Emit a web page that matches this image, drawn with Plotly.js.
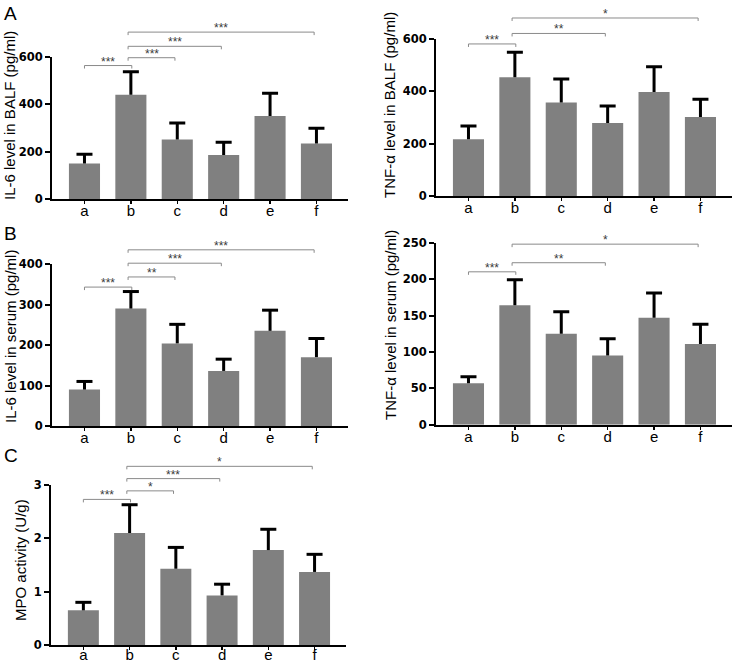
<!DOCTYPE html>
<html>
<head>
<meta charset="utf-8">
<script src="https://cdn.plot.ly/plotly-3.0.1.min.js"></script>
<style>
html, body { margin: 0; padding: 0; background: #fff; }
#chart { width: 734px; height: 664px; }
</style>
</head>
<body>
<div id="chart"></div>
<script>
// groups on every x axis
const groups = ['a', 'b', 'c', 'd', 'e', 'f'];

// A left: IL-6 in BALF (pg/ml)
const il6BalfMean = [151, 441, 252, 187, 351, 235];
const il6BalfSd = [39, 97, 70, 54, 96, 65];
const il6BalfPairs = [[0, 1], [1, 2], [1, 3], [1, 5]];
const il6BalfLevels = [564, 597, 645, 705];
const il6BalfStars = ['***', '***', '***', '***'];

// A right: TNF-α in BALF (pg/ml)
const tnfBalfMean = [216, 453, 357, 278, 397, 301];
const tnfBalfSd = [51, 95, 89, 65, 96, 68];
const tnfBalfPairs = [[0, 1], [1, 3], [1, 5]];
const tnfBalfLevels = [580, 620, 679];
const tnfBalfStars = ['***', '**', '*'];

// B left: IL-6 in serum (pg/ml)
const il6SerumMean = [90, 290, 204, 136, 235, 170];
const il6SerumSd = [20, 42, 47, 29, 51, 46];
const il6SerumPairs = [[0, 1], [1, 2], [1, 3], [1, 5]];
const il6SerumLevels = [343, 368, 402, 435];
const il6SerumStars = ['***', '**', '***', '***'];

// B right: TNF-α in serum (pg/ml)
const tnfSerumMean = [57, 164, 125, 95, 147, 111];
const tnfSerumSd = [9, 35, 30, 23, 34, 27];
const tnfSerumPairs = [[0, 1], [1, 3], [1, 5]];
const tnfSerumLevels = [210, 222.5, 248];
const tnfSerumStars = ['***', '**', '*'];

// C: MPO activity (U/g)
const mpoMean = [0.65, 2.10, 1.43, 0.93, 1.78, 1.37];
const mpoSd = [0.15, 0.53, 0.40, 0.21, 0.39, 0.33];
const mpoPairs = [[0, 1], [1, 2], [1, 3], [1, 5]];
const mpoLevels = [2.73, 2.89, 3.12, 3.35];
const mpoStars = ['***', '*', '***', '*'];

const W = 734, H = 664;
const px = (v) => v / W;
const py = (v) => 1 - v / H;
const FONT = '"Liberation Sans", Arial, sans-serif';
const BOLD = '"DejaVu Sans", "Liberation Sans", sans-serif';

let traces = [];
let shapes = [];
let annotations = [];
let layout = {
    width: W,
    height: H,
    margin: { l: 0, r: 0, t: 0, b: 0 },
    paper_bgcolor: '#fff',
    plot_bgcolor: '#fff',
    showlegend: false,
    font: { family: FONT, color: '#000' }
};

function addPanel(n, mean, sd, pairs, levels, stars, yMax, yStep, xDom, yDom, labelShift) {
    let xa = n === 1 ? 'x' : 'x' + n;
    let ya = n === 1 ? 'y' : 'y' + n;

    traces.push({
        type: 'bar',
        x: groups,
        y: mean,
        xaxis: xa,
        yaxis: ya,
        width: 0.67,
        marker: { color: '#808080', line: { width: 0 } },
        hoverinfo: 'skip'
    });

    // error bars, upper half only
    mean.forEach((m, i) => {
        shapes.push({
            type: 'line', xref: xa, yref: ya,
            x0: i, x1: i, y0: m, y1: m + sd[i],
            line: { color: '#000', width: 3 }
        });
        shapes.push({
            type: 'line', xref: xa, yref: ya,
            xsizemode: 'pixel', xanchor: i, x0: -8, x1: 8,
            y0: m + sd[i], y1: m + sd[i],
            line: { color: '#000', width: 3 }
        });
    });

    // significance brackets
    pairs.forEach((p, k) => {
        let x0 = p[0] === 1 ? p[0] - 0.06 : p[0];
        let x1 = p[1] === 1 ? p[1] + 0.02 : p[1] - 0.05;
        shapes.push({
            type: 'path', xref: xa, yref: ya + ' domain',
            ysizemode: 'pixel', yanchor: levels[k] / yMax,
            path: `M${x0},-3L${x0},0L${x1},0L${x1},-3`,
            line: { color: '#8a8a8a', width: 1 }
        });
        annotations.push({
            xref: xa, yref: ya + ' domain',
            x: (x0 + x1) / 2, y: levels[k] / yMax,
            text: stars[k], showarrow: false,
            xanchor: 'center', yanchor: 'bottom', yshift: -5,
            font: { size: 12, color: '#3a3a3a' }
        });
    });

    layout[n === 1 ? 'xaxis' : 'xaxis' + n] = {
        domain: xDom, anchor: ya,
        type: 'category', range: [-0.7, 5.68],
        showline: true, linewidth: 2, linecolor: '#000',
        ticks: 'outside', ticklen: 3, tickwidth: 1.5, tickcolor: '#000',
        ticklabelstandoff: labelShift,
        tickfont: { size: 15, color: '#000' },
        showgrid: false, zeroline: false, fixedrange: true
    };
    layout[n === 1 ? 'yaxis' : 'yaxis' + n] = {
        domain: yDom, anchor: xa,
        range: [0, yMax], tick0: 0, dtick: yStep,
        showline: true, linewidth: 2, linecolor: '#000',
        ticks: 'outside', ticklen: 5, tickwidth: 2, tickcolor: '#000',
        tickfont: { family: BOLD, size: 11.5, color: '#000', weight: 'bold' },
        showgrid: false, zeroline: false, fixedrange: true
    };
}

addPanel(1, il6BalfMean, il6BalfSd, il6BalfPairs, il6BalfLevels, il6BalfStars, 600, 200,
    [px(52), px(348)], [py(199.3), py(57)], -6);
addPanel(2, tnfBalfMean, tnfBalfSd, tnfBalfPairs, tnfBalfLevels, tnfBalfStars, 600, 200,
    [px(436), px(732)], [py(196), py(38.7)], -6);
addPanel(3, il6SerumMean, il6SerumSd, il6SerumPairs, il6SerumLevels, il6SerumStars, 400, 100,
    [px(52), px(348)], [py(426), py(264)], -6);
addPanel(4, tnfSerumMean, tnfSerumSd, tnfSerumPairs, tnfSerumLevels, tnfSerumStars, 250, 50,
    [px(436), px(732)], [py(424.7), py(242.7)], -6);
addPanel(5, mpoMean, mpoSd, mpoPairs, mpoLevels, mpoStars, 3, 1,
    [px(51), px(346)], [py(645), py(485)], -8);

// y axis titles
const yTitles = [
    ['IL-6 level in BALF (pg/ml)', 10, 116],
    ['TNF-α level in BALF (pg/ml)', 390, 105],
    ['IL-6 level in serum (pg/ml)', 10, 337],
    ['TNF-α level in serum (pg/ml)', 390, 325],
    ['MPO activity (U/g)', 20, 560]
];
yTitles.forEach((t) => {
    annotations.push({
        xref: 'paper', yref: 'paper', x: px(t[1]), y: py(t[2]),
        text: t[0], textangle: -90, showarrow: false,
        xanchor: 'center', yanchor: 'middle',
        font: { size: 15, color: '#000' }
    });
});

// panel letters
const panelLetters = [['A', 1], ['B', 221], ['C', 443]];
panelLetters.forEach((p) => {
    annotations.push({
        xref: 'paper', yref: 'paper', x: px(2), y: py(p[1]),
        text: p[0], showarrow: false,
        xanchor: 'left', yanchor: 'top',
        font: { size: 19, color: '#000' }
    });
});

layout.shapes = shapes;
layout.annotations = annotations;

Plotly.newPlot('chart', traces, layout, { staticPlot: true });
</script>
</body>
</html>
